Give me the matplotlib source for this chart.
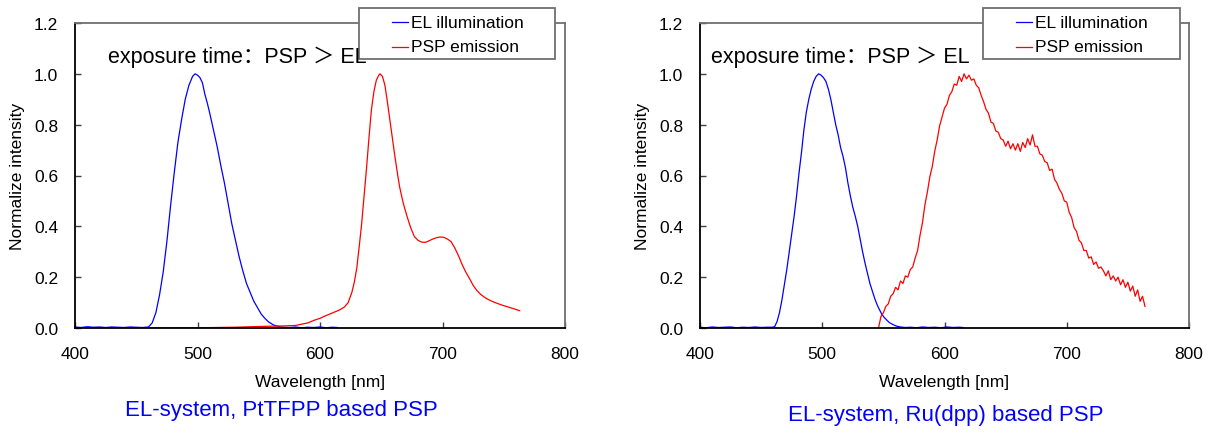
import matplotlib
matplotlib.use("Agg")
import matplotlib.pyplot as plt
from matplotlib.patches import Rectangle
from matplotlib.lines import Line2D

plt.rcParams['font.family'] = ['Liberation Sans', 'Noto Sans CJK SC', 'DejaVu Sans']

# ---- left panel: PtTFPP based PSP ----
left_el_wl = [400, 405, 410, 415, 420, 425, 430, 435, 440, 445, 450, 455, 460,
              463, 466, 469, 472, 475, 478, 481, 484, 487, 490, 493, 496, 498,
              500, 502, 504, 506, 508, 510, 513, 516, 519, 522, 525, 528, 531,
              534, 537, 540, 543, 546, 549, 552, 555, 558, 562, 566, 570, 575,
              580, 585, 590, 595, 600, 605, 610, 614]
left_el_val = [0.004, 0.002, 0.005, 0.003, 0.004, 0.002, 0.004, 0.003, 0.002, 0.004, 0.003, 0.002, 0.004,
               0.02, 0.06, 0.13, 0.22, 0.34, 0.48, 0.61, 0.73, 0.82, 0.90, 0.955, 0.99, 1.0,
               0.995, 0.985, 0.965, 0.92, 0.885, 0.845, 0.78, 0.715, 0.64, 0.57, 0.49, 0.41, 0.345,
               0.28, 0.225, 0.175, 0.14, 0.105, 0.08, 0.055, 0.038, 0.024, 0.012, 0.006, 0.003, 0.002,
               0.004, 0.001, 0.003, 0.002, 0.004, 0.001, 0.003, 0.002]

left_psp_wl = [400, 450, 500, 530, 550, 570, 580, 585, 590, 595, 600, 604, 608, 612,
               616, 620, 623, 626, 628, 630, 632, 634, 636, 638, 640, 642, 644, 646,
               648, 649, 651, 653, 655, 657, 659, 661, 663, 665, 668, 671, 674, 677,
               680, 683, 686, 689, 692, 695, 698, 701, 704, 707, 710, 713, 716, 719,
               722, 725, 728, 731, 734, 737, 740, 744, 748, 752, 756, 760, 763]
left_psp_val = [0.0, 0.0, 0.001, 0.003, 0.006, 0.008, 0.010, 0.015, 0.02, 0.03, 0.038, 0.047, 0.055, 0.063,
                0.071, 0.083, 0.10, 0.14, 0.18, 0.235, 0.32, 0.41, 0.52, 0.63, 0.75, 0.86, 0.93, 0.975,
                0.995, 1.0, 0.99, 0.955, 0.89, 0.82, 0.75, 0.68, 0.615, 0.555, 0.49, 0.44, 0.395, 0.36,
                0.345, 0.338, 0.337, 0.343, 0.35, 0.355, 0.358, 0.357, 0.35, 0.34, 0.315, 0.285, 0.25, 0.22,
                0.195, 0.168, 0.148, 0.133, 0.122, 0.113, 0.106, 0.098, 0.091, 0.085, 0.079, 0.073, 0.068]

# ---- right panel: Ru(dpp) based PSP ----
right_el_wl = [400, 405, 410, 415, 420, 425, 430, 435, 440, 445, 450, 455, 459,
               461, 463, 465, 467, 469, 471, 473, 475, 477, 479, 481, 483, 485, 487,
               489, 491, 493, 495, 497, 499, 501, 503, 505, 507, 509, 511, 513, 515,
               517, 519, 521, 523, 525, 527, 529, 531, 533, 535, 537, 539, 541, 543,
               545, 547, 549, 551, 553, 555, 558, 561, 564, 568, 572, 577, 582, 587,
               592, 597, 602, 607, 612, 615]
right_el_val = [0.003, 0.001, 0.004, 0.002, 0.003, 0.004, 0.001, 0.003, 0.002, 0.004, 0.002, 0.003, 0.003,
                0.005, 0.025, 0.06, 0.11, 0.17, 0.23, 0.30, 0.37, 0.44, 0.52, 0.61, 0.69, 0.78, 0.85,
                0.90, 0.94, 0.97, 0.99, 1.0, 0.995, 0.985, 0.97, 0.94, 0.90, 0.85, 0.80, 0.76, 0.71,
                0.675, 0.63, 0.57, 0.52, 0.475, 0.44, 0.40, 0.35, 0.30, 0.255, 0.215, 0.175, 0.145, 0.115,
                0.09, 0.07, 0.052, 0.04, 0.03, 0.021, 0.013, 0.007, 0.004, 0.002, 0.003, 0.001, 0.004, 0.002,
                0.003, 0.001, 0.004, 0.002, 0.003, 0.002]

right_psp_wl = list(range(546, 766, 2))
right_psp_val = [0.0, 0.045, 0.06, 0.085, 0.095, 0.125, 0.135, 0.16, 0.15, 0.185,
                 0.175, 0.205, 0.2, 0.23, 0.24, 0.275, 0.305, 0.365, 0.415, 0.485,
                 0.535, 0.595, 0.635, 0.695, 0.74, 0.795, 0.83, 0.865, 0.88, 0.915,
                 0.93, 0.96, 0.955, 0.99, 0.97, 1.0, 0.98, 0.995, 0.975, 0.98,
                 0.955, 0.945, 0.915, 0.89, 0.86, 0.845, 0.81, 0.805, 0.775, 0.77,
                 0.745, 0.74, 0.715, 0.735, 0.705, 0.725, 0.7, 0.725, 0.695, 0.73,
                 0.71, 0.745, 0.72, 0.76, 0.715, 0.715, 0.685, 0.68, 0.655, 0.65,
                 0.62, 0.625, 0.585, 0.57, 0.545, 0.53, 0.5, 0.495, 0.455, 0.435,
                 0.395, 0.38, 0.345, 0.335, 0.305, 0.305, 0.275, 0.28, 0.25, 0.26,
                 0.235, 0.24, 0.225, 0.205, 0.225, 0.19, 0.205, 0.185, 0.2, 0.17,
                 0.19, 0.16, 0.18, 0.145, 0.165, 0.125, 0.15, 0.105, 0.125, 0.085]

x_ticks = [400, 500, 600, 700, 800]
y_ticks = [0.0, 0.2, 0.4, 0.6, 0.8, 1.0, 1.2]
legend_labels = ['EL illumination', 'PSP emission']
note_text = 'exposure time：PSP ＞ EL'
captions = ['EL-system, PtTFPP based PSP', 'EL-system, Ru(dpp) based PSP']

W, H = 1214, 435
fig = plt.figure(figsize=(W / 100, H / 100), dpi=100)


def px(x, y):
    # pixel position (from top-left) -> figure fraction
    return x / W, 1 - y / H


def draw_panel(rect, el_wl, el_val, psp_wl, psp_val):
    ax = fig.add_axes(rect)
    ax.plot(el_wl, el_val, color='#0000FF', lw=0.9)
    ax.plot(psp_wl, psp_val, color='#FF0000', lw=0.9)
    ax.set_xlim(400, 800)
    ax.set_ylim(0, 1.2)
    ax.set_xticks(x_ticks)
    ax.set_yticks(y_ticks)
    ax.set_yticklabels([f'{v:.1f}' for v in y_ticks])
    ax.tick_params(direction='in', length=4, width=1, labelsize=12.5, color='#404040')
    ax.tick_params(axis='y', pad=12)
    ax.tick_params(axis='x', pad=13)
    for side in ['left', 'bottom']:
        ax.spines[side].set_color('black')
        ax.spines[side].set_linewidth(1.3)
    for side in ['top', 'right']:
        ax.spines[side].set_color('#707070')
        ax.spines[side].set_linewidth(1.3)
    ax.set_xlabel('Wavelength [nm]', fontsize=12.5)
    ax.set_ylabel('Normalize intensity', fontsize=12.5)
    ax.xaxis.set_label_coords(0.5, -0.15)
    ax.yaxis.set_label_coords(-0.102, 0.5)
    return ax


def draw_legend(x0, x1, y0, y1, line_x):
    bx, by = px(x0, y1)
    bw = (x1 - x0) / W
    bh = (y1 - y0) / H
    fig.add_artist(Rectangle((bx, by), bw, bh, transform=fig.transFigure,
                             facecolor='white', edgecolor='#707070', lw=1.3, zorder=5))
    for label, color, yy in zip(legend_labels, ['#0000FF', '#FF0000'], [23, 48]):
        lx0, ly = px(line_x, yy)
        lx1, _ = px(line_x + 16, yy)
        fig.add_artist(Line2D([lx0, lx1], [ly, ly], transform=fig.transFigure,
                              color=color, lw=0.9, zorder=6))
        tx, _ = px(line_x + 19, yy)
        fig.text(tx, ly, label, fontsize=12.5, va='center', ha='left', zorder=6)


ax1 = draw_panel([75 / W, 1 - 329 / H, 490 / W, 305 / H],
                 left_el_wl, left_el_val, left_psp_wl, left_psp_val)
ax2 = draw_panel([700 / W, 1 - 329 / H, 489 / W, 305 / H],
                 right_el_wl, right_el_val, right_psp_wl, right_psp_val)

draw_legend(359, 555, 9, 60, 392)
draw_legend(983, 1180, 9, 60, 1016)

for x in [108, 711]:
    tx, ty = px(x, 57)
    fig.text(tx, ty, note_text, fontsize=15.5, va='center', ha='left', zorder=7)

for (cx, cy), cap in zip([(281, 411), (946, 416)], captions):
    tx, ty = px(cx, cy)
    fig.text(tx, ty, cap, fontsize=16, color='#0000FF', va='center', ha='center')

fig.savefig('out.png', dpi=100)
